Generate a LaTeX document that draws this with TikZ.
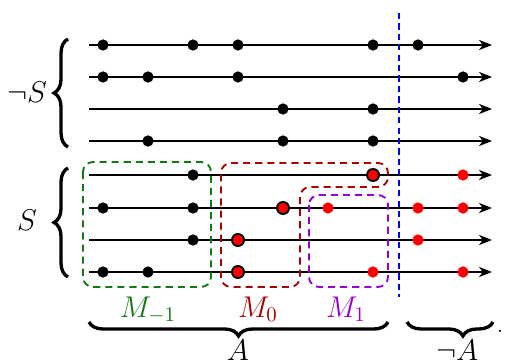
\documentclass[tikz,border=0pt]{standalone}
\usetikzlibrary{arrows.meta,decorations.pathreplacing}
\definecolor{mygreen}{RGB}{20,120,20}
\definecolor{myred}{RGB}{170,0,0}
\definecolor{myviolet}{RGB}{150,0,210}
\begin{document}
\begin{tikzpicture}[x=0.48pt,y=-0.48pt,
  axisline/.style={line width=0.9pt,-{Stealth[length=6.2pt,width=4.8pt,inset=1.8pt]}},
  bdot/.style={circle,fill=black,inner sep=0pt,minimum size=5.4pt},
  rdot/.style={circle,fill=red,inner sep=0pt,minimum size=5.4pt},
  rodot/.style={circle,fill=red,draw=black,line width=0.9pt,inner sep=0pt,minimum size=5.8pt},
  dbox/.style={line width=0.9pt,dash pattern=on 3.4pt off 2.4pt,rounded corners=4.8pt},
  bigbrace/.style={decorate,decoration={brace,amplitude=6.7pt},line width=1.6pt},
  lbl/.style={inner sep=0pt,font=\Large}]
\useasboundingbox (0,0) rectangle (510,360);
% axes
\foreach \y [count=\i] in {45,77,109,141,175,208,240,272}{
  \coordinate (s\i) at (89,\y);
  \coordinate (e\i) at (492,\y);
  \draw[axisline] (s\i) -- (e\i);
}
% blue line
\coordinate (bt) at (399,13);
\coordinate (bb) at (399,297);
\draw[blue,line width=0.9pt,dash pattern=on 3pt off 2pt] (bt) -- (bb);
% boxes
\draw[dbox,mygreen] (83,162) rectangle (211,287);
\draw[dbox,myred] (221,163) -- (388,163) -- (388,187) -- (300,187) -- (300,287) -- (221,287) -- cycle;
\draw[dbox,myviolet] (309,195) rectangle (388,287);
% black dots
\foreach \x/\y [count=\k] in {103/45,193/45,238/45,373/45,418/45,
  103/77,148/77,238/77,463/77,
  283/109,373/109,
  148/141,283/141,373/141,
  193/175,103/208,193/208,193/240,103/272,148/272}{
  \node[bdot] (b\k) at (\x,\y) {};
}
% red dots
\foreach \x/\y [count=\k] in {463/175,328/208,418/208,463/208,418/240,373/272,463/272}{
  \node[rdot] (r\k) at (\x,\y) {};
}
% red outlined dots
\foreach \x/\y [count=\k] in {373/175,283/208,238/240,238/272}{
  \node[rodot] (o\k) at (\x,\y) {};
}
% labels
\node[lbl,mygreen] (m1) at (148,310) {$M_{-1}$};
\node[lbl,myred] (m0) at (258,309) {$M_0$};
\node[lbl,myviolet] (mp) at (346,309) {$M_1$};
% braces
\coordinate (nsb) at (68,147);
\coordinate (nst) at (68,39);
\draw[bigbrace] (nsb) -- (nst);
\node[lbl] (ns) at (27,92) {$\neg S$};
\coordinate (sb) at (68,277);
\coordinate (st) at (68,168);
\draw[bigbrace] (sb) -- (st);
\node[lbl] (sl) at (27,220) {$S$};
\coordinate (al) at (89,322);
\coordinate (ar) at (388,322);
\draw[bigbrace,decoration={brace,mirror,amplitude=6.7pt}] (al) -- (ar);
\node[lbl] (a) at (238,350) {$A$};
\coordinate (nal) at (407,322);
\coordinate (nar) at (493,322);
\draw[bigbrace,decoration={brace,mirror,amplitude=6.7pt,aspect=0.65}] (nal) -- (nar);
\node[lbl] (na) at (457,350) {$\neg A$};
\node[inner sep=0pt] (pd) at (500,331) {.};
\end{tikzpicture}
\end{document}
